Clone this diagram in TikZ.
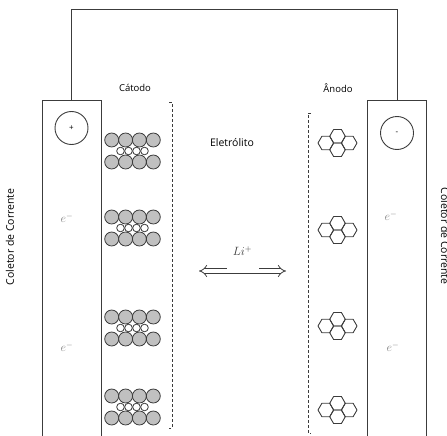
\documentclass[tikz,border=0pt]{standalone}
\usepackage{fontspec}
\setmainfont{Open Sans}
\usetikzlibrary{arrows.meta,positioning}

\definecolor{linegray}{RGB}{60,60,60}
\definecolor{ballgray}{RGB}{192,192,192}
\definecolor{elgray}{RGB}{125,125,125}

\begin{document}
\begin{tikzpicture}[x=1pt, y=-1pt,
    collector/.style={rectangle, draw=linegray, line width=1pt, minimum width=59pt, minimum height=360pt, anchor=north},
    pole/.style={circle, draw=linegray, line width=0.9pt, minimum size=33pt, inner sep=0pt, font=\footnotesize},
    electron/.style={text=elgray, font=\large},
    tag/.style={font=\fontsize{9.5}{11}\selectfont},
    sidetag/.style={font=\fontsize{10.5}{12}\selectfont},
    bracket/.style={draw=linegray, densely dashed, line width=0.8pt},
    ball/.style={draw=linegray, fill=ballgray, line width=0.8pt},
    ion/.style={draw=linegray, fill=white, line width=0.8pt},
    hexline/.style={draw=linegray, line width=0.9pt, line join=round},
    shuttle/.style={draw=linegray, double, double distance=3.5pt, line width=0.8pt, {Implies[length=6pt]}-{Implies[length=6pt]}},
    cathodestack/.pic={
      \foreach \x in {-20.8,-6.9,6.9,20.8} {
        \draw[ball] (\x,-11) circle[radius=7pt];
        \draw[ball] (\x,11) circle[radius=7pt];
      }
      \foreach \x in {-12,-4,4,12}
        \draw[ion] (\x,0) circle[radius=3.8pt];
    },
    anodeflake/.pic={
      \foreach \x/\y in {0/-6.75,0/6.75,-11.7/0,11.7/0}
        \draw[hexline] (\x,\y) ++(7.8pt,0) -- ++(120:7.8pt) -- ++(180:7.8pt) -- ++(240:7.8pt) -- ++(300:7.8pt) -- ++(0:7.8pt) -- cycle;
    }]
    \useasboundingbox (0,0) rectangle (447,436);

    % Current collectors
    \node (poscol) [collector] at (71.5,100) {};
    \node (negcol) [collector] at (397,100) {};
    \node (plus) [pole] at (71.5,128) {+};
    \node (minus) [pole] at (397,133) {-};
    \draw[draw=linegray, line width=1pt] (poscol.north) -- ++(0,-90) -| (negcol.north);

    \node (colleft) [sidetag, rotate=90] at (10,237) {Coletor de Corrente};
    \node (colright) [sidetag, rotate=-90] at (445,236) {Coletor de Corrente};

    % Electrons
    \node (eposA) [electron] at (67,218) {$e^{-}$};
    \node (eposB) [electron] at (67,347) {$e^{-}$};
    \node (enegA) [electron] at (391,216) {$e^{-}$};
    \node (enegB) [electron] at (393,347) {$e^{-}$};

    % Electrodes
    \foreach \y in {151,228,328,407}
      \pic at (132.5,\y) {cathodestack};
    \foreach \y in {143,230,326,410}
      \pic at (337.5,\y) {anodeflake};
    \draw[bracket] (169,102) -- (172,102) -- (172,428) -- (169,428);
    \draw[bracket] (311,113) -- (308,113) -- (308,433) -- (311,433);

    \node (cathode) [tag] at (135,88) {Cátodo};
    \node (anode) [tag] at (338,88) {Ânodo};
    \node (electrolyte) [sidetag] at (232,143) {Eletrólito};

    % Ion shuttle
    \coordinate (liL) at (199,271);
    \coordinate (liR) at (286,271);
    \draw[shuttle] (liL) -- (liR);
    \path (liL) -- node[fill=white, minimum width=32pt, minimum height=40pt, anchor=south, text=linegray, font=\large, inner sep=0pt] (li) {$Li^{+}$} (liR);
\end{tikzpicture}
\end{document}
